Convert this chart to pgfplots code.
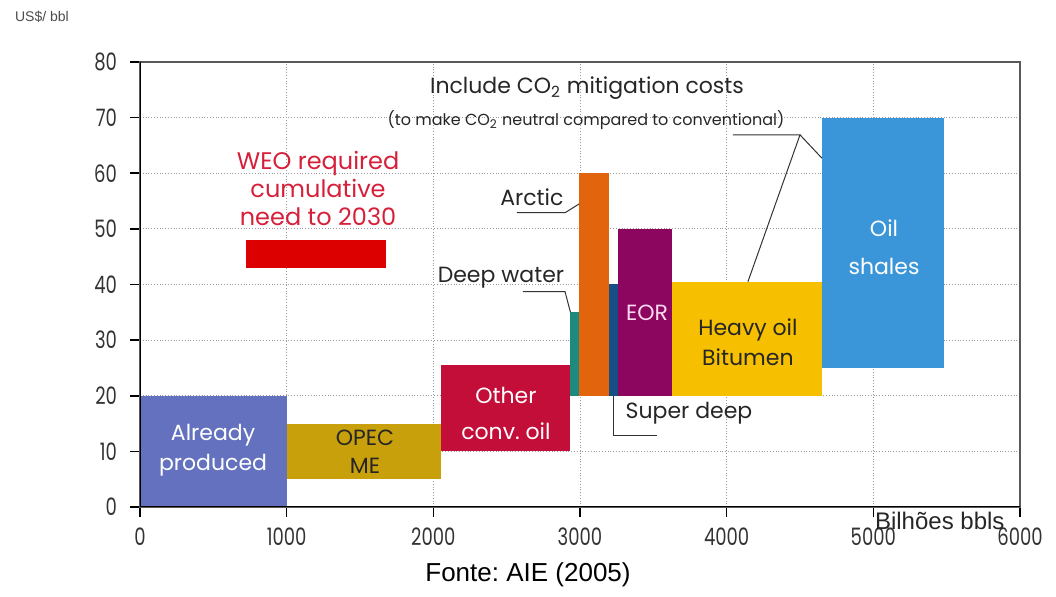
\documentclass[border=0pt]{standalone}
\usepackage{graphicx}
\usepackage{pgfplots}
\pgfplotsset{compat=1.18}
\usepackage{fontspec}
\setmainfont{Poppins}
\newfontfamily\arial{Liberation Sans}
\frenchspacing

\definecolor{cAP}{RGB}{99,113,190}
\definecolor{cOPEC}{RGB}{200,160,12}
\definecolor{cOther}{RGB}{196,14,58}
\definecolor{cDeep}{RGB}{30,138,126}
\definecolor{cArctic}{RGB}{226,100,12}
\definecolor{cSuper}{RGB}{24,78,134}
\definecolor{cEOR}{RGB}{140,6,96}
\definecolor{cHeavy}{RGB}{246,192,0}
\definecolor{cShale}{RGB}{58,150,216}
\definecolor{cWEO}{RGB}{221,0,0}
\definecolor{cWEOtxt}{RGB}{214,32,58}

\begin{document}
\begin{tikzpicture}
\path[use as bounding box] (0,0) rectangle (528pt,-298.5pt);
\begin{axis}[
  at={(70pt,-253.5pt)}, anchor=south west,
  scale only axis, width=440pt, height=222.5pt,
  xmin=0, xmax=6000, ymin=0, ymax=80,
  xtick={0,1000,...,6000}, ytick={0,10,...,80},
  tick align=outside, tick pos=left,
  major tick length=5pt,
  tick style={black, line width=0.8pt},
  grid=major, grid style={densely dotted, gray!80},
  axis line style={gray!70!black, line width=0.8pt},
  no markers,
  /pgf/number format/assume math mode=true,
  /pgf/number format/1000 sep={},
  xticklabel={\scalebox{0.75}[1]{\pgfmathprintnumber{\tick}}},
  yticklabel={\scalebox{0.75}[1]{\pgfmathprintnumber{\tick}}},
  ticklabel style={font=\fontsize{12}{12}\selectfont, text=black!80},
  yticklabel style={xshift=-3pt},
  xticklabel style={yshift=-2pt},
]
% WEO requirement bar
\addplot[fill=cWEO, draw=none] coordinates {(720,43) (1680,43) (1680,48) (720,48)};
% supply cost blocks
\addplot[fill=cAP, draw=none] coordinates {(0,0) (1000,0) (1000,20) (0,20)};
\addplot[fill=cOPEC, draw=none] coordinates {(1000,5) (2050,5) (2050,15) (1000,15)};
\addplot[fill=cOther, draw=none] coordinates {(2050,10) (2930,10) (2930,25.5) (2050,25.5)};
\addplot[fill=cDeep, draw=none] coordinates {(2930,20) (2995,20) (2995,35) (2930,35)};
\addplot[fill=cArctic, draw=none] coordinates {(2995,20) (3200,20) (3200,60) (2995,60)};
\addplot[fill=cSuper, draw=none] coordinates {(3200,20) (3260,20) (3260,40) (3200,40)};
\addplot[fill=cEOR, draw=none] coordinates {(3260,20) (3630,20) (3630,50) (3260,50)};
\addplot[fill=cHeavy, draw=none] coordinates {(3630,20) (4650,20) (4650,40.5) (3630,40.5)};
\addplot[fill=cShale, draw=none] coordinates {(4650,25) (5480,25) (5480,70) (4650,70)};

% left and bottom axis lines
\draw[black, line width=1.2pt] (axis cs:0,80) -- (axis cs:0,0) -- (axis cs:6000,0);

% leader lines
\draw[black!80, line width=0.5pt] (axis cs:4043,66.9) -- (axis cs:4500,66.9) -- (axis cs:4145,40.5);
\draw[black!80, line width=0.5pt] (axis cs:4500,66.9) -- (axis cs:4650,62.7);
\draw[black!80, line width=0.5pt] (axis cs:2570,52.9) -- (axis cs:2898,52.9) -- (axis cs:2995,54.5);
\draw[black!80, line width=0.5pt] (axis cs:2611,38.7) -- (axis cs:2898,38.7) -- (axis cs:2935,35);
\draw[black!80, line width=0.5pt] (axis cs:3230,20) -- (axis cs:3230,12.9) -- (axis cs:3525,12.9);

% labels
\node[text=white, align=center, font=\fontsize{11}{15}\selectfont] at (axis cs:498,10.2) {Already\\produced};
\node[text=black!85, align=center, font=\fontsize{11}{14}\selectfont] at (axis cs:1534,9.9) {OPEC\\ME};
\node[text=white, align=center, font=\fontsize{11}{18}\selectfont] at (axis cs:2495,16.9) {Other\\conv. oil};
\node[text=magenta!15, font=\fontsize{11}{13}\selectfont] at (axis cs:3457,34.9) {EOR};
\node[text=black!85, align=center, font=\fontsize{11}{15}\selectfont] at (axis cs:4145,29.7) {Heavy oil\\Bitumen};
\node[text=white, align=center, font=\fontsize{11}{19}\selectfont] at (axis cs:5073,46.7) {Oil\\shales};
\node[text=cWEOtxt, align=center, font=\fontsize{12}{14}\selectfont] at (axis cs:1214,57.3) {WEO required\\cumulative\\need to 2030};
\node[text=black!85, font=\fontsize{11}{13}\selectfont] at (axis cs:2672,55.7) {Arctic};
\node[text=black!85, font=\fontsize{11}{13}\selectfont] at (axis cs:2461,41.2) {Deep water};
\node[text=black!85, font=\fontsize{11}{13}\selectfont] at (axis cs:3743,16.9) {Super deep};
\node[text=black!85, font=\fontsize{11}{13}\selectfont] at (axis cs:3048,75.3) {Include CO\textsubscript{2} mitigation costs};
\node[text=black!85, font=\fontsize{8}{10}\selectfont] at (axis cs:3041,69.6) {(to make CO\textsubscript{2} neutral compared to conventional)};
\end{axis}
% texts outside the axis
\node[anchor=west, text=black!70, font=\arial\fontsize{7}{8}\selectfont] at (4pt,-8.5pt) {US\$/ bbl};
\node[anchor=west, text=black!85, font=\arial\fontsize{12}{13}\selectfont] at (434pt,-260.5pt) {Bilhões bbls};
\node[text=black, font=\arial\fontsize{13}{14}\selectfont] at (264pt,-287.5pt) {Fonte: AIE (2005)};
\end{tikzpicture}
\end{document}
